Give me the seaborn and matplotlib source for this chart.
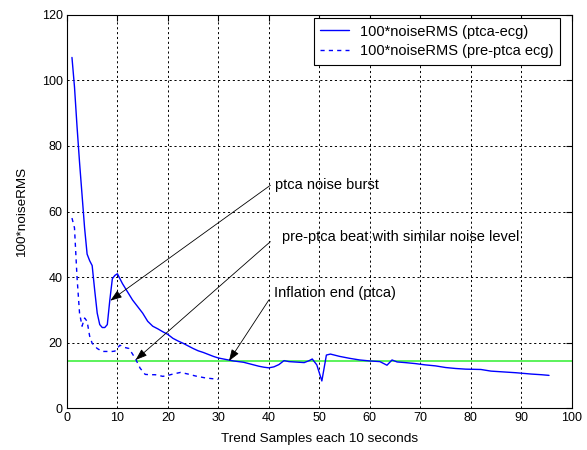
import matplotlib
matplotlib.use("Agg")
import matplotlib.pyplot as plt
import seaborn as sns
import pandas as pd

# ---- data ----
ptca_x = [1.0, 1.5, 2.0, 2.5, 3.0, 3.5, 4.0, 4.5, 5.0, 5.5, 6.0, 6.5, 7.0, 7.5, 8.0, 8.5,
          9.0, 9.5, 10.0, 11.0, 12.0, 13.0, 14.0, 15.0, 16.0, 17.0, 18.0, 19.0, 20.0,
          21.0, 22.0, 23.0, 24.0, 25.0, 26.0, 27.0, 28.0, 29.0, 30.0, 31.0, 32.0, 33.0,
          34.0, 35.0, 36.0, 37.0, 38.0, 39.0, 40.0, 41.0, 42.0, 43.0, 44.0, 45.0, 46.0,
          47.0, 48.0, 48.6, 49.5, 50.5, 51.4, 52.2, 54.0, 56.0, 58.0, 60.0, 62.0, 63.4,
          64.4, 65.4, 67.0, 69.0, 71.0, 73.0, 75.0, 77.0, 79.0, 82.0, 84.0, 86.0, 89.0,
          92.0, 94.0, 95.5]
ptca_y = [107.0, 98.0, 86.0, 75.0, 65.0, 55.0, 47.0, 45.0, 43.5, 36.0, 29.0, 25.5, 24.6,
          24.6, 25.5, 33.0, 39.5, 40.5, 41.0, 38.0, 35.5, 33.0, 31.0, 29.0, 26.5, 25.0,
          24.2, 23.3, 22.5, 21.3, 20.5, 19.8, 19.0, 18.2, 17.5, 17.0, 16.4, 15.8, 15.3,
          15.0, 14.7, 14.4, 14.2, 14.0, 13.6, 13.2, 12.8, 12.5, 12.3, 12.6, 13.3, 14.5,
          14.2, 14.1, 14.0, 13.9, 14.5, 15.0, 13.2, 8.3, 16.2, 16.5, 15.8, 15.2, 14.7,
          14.4, 14.2, 13.1, 14.7, 14.1, 13.9, 13.6, 13.2, 12.9, 12.4, 12.1, 11.9, 11.8,
          11.3, 11.1, 10.8, 10.4, 10.2, 10.0]

pre_x = [1.0, 1.5, 2.0, 2.5, 3.0, 3.5, 4.0, 4.5, 5.0, 5.5, 6.0, 7.0, 8.0, 9.0, 9.5, 10.5,
         11.5, 12.3, 13.0, 13.6, 14.5, 15.5, 16.5, 17.5, 19.0, 20.0, 21.0, 22.5, 24.0,
         25.5, 27.5, 30.0]
pre_y = [58.0, 55.0, 40.0, 29.0, 25.0, 27.5, 26.5, 22.0, 19.8, 19.0, 18.2, 17.3, 17.3,
         17.3, 17.4, 19.2, 18.5, 18.2, 16.5, 15.0, 12.2, 10.3, 10.2, 10.2, 9.7, 10.0,
         10.4, 10.9, 10.4, 9.8, 9.2, 8.8]

threshold = 14.5

series_labels = ["100*noiseRMS (ptca-ecg)", "100*noiseRMS (pre-ptca ecg)"]
x_ticks = [0, 10, 20, 30, 40, 50, 60, 70, 80, 90, 100]
y_ticks = [0, 20, 40, 60, 80, 100, 120]

df = pd.concat([
    pd.DataFrame({"x": ptca_x, "y": ptca_y, "series": series_labels[0]}),
    pd.DataFrame({"x": pre_x, "y": pre_y, "series": series_labels[1]}),
], ignore_index=True)

# ---- style ----
sns.set_style("white")
plt.rcParams["font.family"] = ["Liberation Sans", "DejaVu Sans"]
plt.rcParams["text.color"] = "black"
plt.rcParams["axes.labelcolor"] = "black"
plt.rcParams["xtick.color"] = "black"
plt.rcParams["ytick.color"] = "black"

fig = plt.figure(figsize=(5.87, 4.5), dpi=100)
ax = fig.add_axes([0.114, 0.093, 0.860, 0.874])

sns.lineplot(data=df, x="x", y="y", hue="series", style="series",
             palette=["#0000ff", "#0000ff"], dashes=[(None, None), (3, 3)],
             linewidth=1.0, ax=ax, sort=False, estimator=None, legend=True)

ax.axhline(threshold, color="#40f040", linewidth=1.2, zorder=1)

ax.set_xlim(0, 100)
ax.set_ylim(0, 120)
ax.set_xticks(x_ticks)
ax.set_yticks(y_ticks)
ax.grid(True, color="black", linestyle=(0, (2.2, 2.8)), linewidth=0.7)
ax.set_axisbelow(True)
ax.tick_params(direction="in", length=4, width=0.8, top=True, right=True,
               labelsize=9, colors="black", pad=3)
for s in ax.spines.values():
    s.set_color("black")
    s.set_linewidth(0.8)
    s.set_visible(True)

ax.set_xlabel("Trend Samples each 10 seconds", fontsize=9.7, labelpad=6, color="black")
ax.set_ylabel("100*noiseRMS", fontsize=9.7, labelpad=10, color="black")

leg = ax.legend(loc="upper right", bbox_to_anchor=(0.976, 0.992), borderaxespad=0,
                frameon=True, fancybox=False, edgecolor="black", framealpha=1,
                fontsize=10.5, handlelength=2.0, handletextpad=0.7,
                borderpad=0.45, labelspacing=0.4)
leg.get_frame().set_linewidth(0.8)
leg.set_title(None)
for t in leg.get_texts():
    t.set_color("black")

arrow = dict(arrowstyle="-|>,head_length=0.7,head_width=0.25", color="black",
             linewidth=0.6, shrinkA=0, shrinkB=0)
fs = 10.5
ax.annotate("", xy=(8.6, 32.8), xytext=(40.3, 68.0), arrowprops=arrow)
ax.text(41.2, 68.0, "ptca noise burst", va="center", ha="left", fontsize=fs,
        color="black")
ax.annotate("", xy=(13.6, 14.7), xytext=(40.3, 50.8), arrowprops=arrow)
ax.text(42.6, 52.3, "pre-ptca beat with similar noise level", va="center", ha="left",
        fontsize=fs, color="black")
ax.annotate("", xy=(32.1, 14.4), xytext=(40.0, 33.0), arrowprops=arrow)
ax.text(41.0, 35.1, "Inflation end (ptca)", va="center", ha="left", fontsize=fs,
        color="black")

fig.savefig("out.png", dpi=100)
